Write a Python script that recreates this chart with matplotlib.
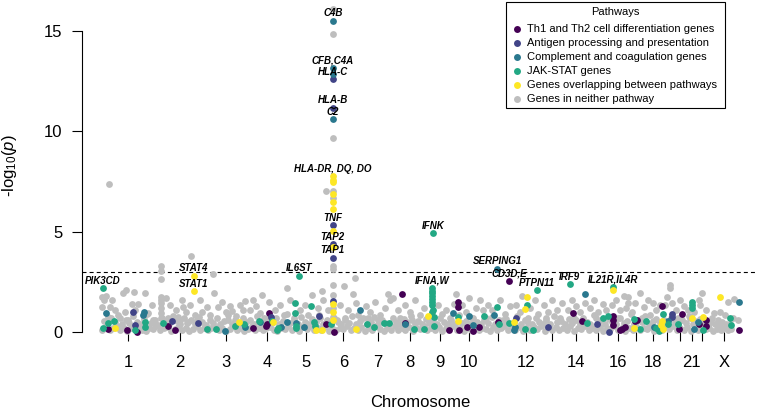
import matplotlib
matplotlib.use("Agg")
import matplotlib.pyplot as plt
from matplotlib.patches import Rectangle
import numpy as np

plt.rcParams['font.family'] = ['Liberation Sans', 'DejaVu Sans']
plt.rcParams['mathtext.fontset'] = 'custom'
plt.rcParams['mathtext.rm'] = 'Liberation Sans'
plt.rcParams['mathtext.it'] = 'Liberation Sans:italic'

# chromosomes and their lengths (Mb)
chromosomes = ['1', '2', '3', '4', '5', '6', '7', '8', '9', '10', '11', '12', '13', '14',
               '15', '16', '17', '18', '19', '20', '21', '22', 'X']
chrom_length_mb = [249, 243, 198, 191, 181, 171, 159, 146, 141, 136, 135, 134, 115, 107,
                   103, 90, 81, 78, 59, 63, 48, 51, 155]
shown_labels = ['1', '2', '3', '4', '5', '6', '7', '8', '9', '10', '12', '14', '16', '18', '21', 'X']

# (genome position in Mb, -log10 p)
gray_band_low = [(2,0.12),(18,0.25),(37,0.08),(52,0.2),(70,0.3),(88,0.1),(104,0.18),(121,0.05),(139,0.22),(156,0.15),(175,0.28),(190,0.1),(208,0.06),(226,0.2),(243,0.14),(259,0.3),(277,0.08),(294,0.18),(312,0.25),(330,0.05),(347,0.15),(363,0.27),(381,0.1),(398,0.2),(416,0.04),(433,0.16),(451,0.3),(468,0.12),(486,0.22),(503,0.08),(520,0.18),(538,0.26),(555,0.1),(573,0.2),(590,0.06),(608,0.15),(625,0.28),(642,0.12),(660,0.2),(677,0.05),(695,0.17),(712,0.3),(729,0.1),(747,0.22),(764,0.08),(782,0.18),(799,0.26),(817,0.12),(834,0.05),(851,0.2),(869,0.15),(886,0.28),(904,0.1),(921,0.18),(938,0.06),(956,0.24),(973,0.14),(991,0.3),(1008,0.08),(1025,0.2),(1043,0.12),(1060,0.26),(1078,0.05),(1095,0.18),(1112,0.1),(1130,0.22),(1147,0.15),(1165,0.3),(1182,0.08),(1199,0.2),(1217,0.12),(1234,0.25),(1252,0.05),(1269,0.18),(1286,0.1),(1304,0.28),(1321,0.15),(1339,0.06),(1356,0.22),(1373,0.12),(1391,0.3),(1408,0.08),(1426,0.18),(1443,0.1),(1460,0.25),(1478,0.05),(1495,0.2),(1513,0.14),(1530,0.28),(1547,0.08),(1565,0.18),(1582,0.1),(1600,0.24),(1617,0.06),(1634,0.2),(1652,0.14),(1669,0.3),(1687,0.1),(1704,0.18),(1721,0.05),(1739,0.22),(1756,0.12),(1774,0.28),(1791,0.08),(1808,0.2),(1826,0.15),(1843,0.05),(1861,0.25),(1878,0.1),(1895,0.18),(1913,0.3),(1930,0.08),(1948,0.2),(1965,0.12),(1982,0.26),(2000,0.05),(2017,0.18),(2035,0.1),(2052,0.24),(2069,0.14),(2087,0.3),(2104,0.06),(2122,0.2),(2139,0.12),(2156,0.26),(2174,0.08),(2191,0.18),(2209,0.1),(2226,0.28),(2243,0.05),(2261,0.2),(2278,0.15),(2296,0.3),(2313,0.08),(2330,0.18),(2348,0.1),(2365,0.24),(2383,0.06),(2400,0.2),(2417,0.14),(2435,0.28),(2452,0.1),(2470,0.18),(2487,0.05),(2504,0.22),(2522,0.12),(2539,0.3),(2557,0.08),(2574,0.2),(2591,0.15),(2609,0.26),(2626,0.05),(2644,0.18),(2661,0.1),(2678,0.24),(2696,0.14),(2713,0.3),(2731,0.08),(2748,0.2),(2765,0.12),(2783,0.26),(2800,0.05),(2818,0.18),(2835,0.1),(2852,0.24),(2870,0.14),(2887,0.2),(2905,0.06),(2922,0.16),(2940,0.1),(2957,0.22),(2975,0.08),(2992,0.14)]

gray_band_mid = [(10,0.55),(27,0.4),(45,0.7),(61,0.48),(79,0.85),(96,0.38),(113,0.62),(130,0.45),(148,0.78),(165,0.52),(183,0.4),(199,0.66),(217,0.9),(235,0.44),(252,0.58),(268,0.36),(286,0.72),(303,0.5),(321,0.42),(339,0.8),(356,0.55),(372,0.38),(390,0.68),(407,0.46),(425,0.6),(442,0.4),(460,0.75),(477,0.5),(495,0.36),(512,0.62),(529,0.45),(547,0.7),(564,0.4),(582,0.56),(599,0.85),(617,0.42),(634,0.6),(651,0.38),(669,0.72),(686,0.48),(704,0.58),(721,0.4),(738,0.8),(756,0.5),(773,0.38),(791,0.64),(808,0.45),(826,0.7),(843,0.4),(860,0.55),(878,0.9),(895,0.44),(913,0.62),(930,0.38),(947,0.74),(965,0.5),(982,0.42),(1000,0.66),(1017,0.48),(1034,0.85),(1052,0.4),(1069,0.58),(1087,0.36),(1104,0.7),(1121,0.5),(1139,0.42),(1156,0.62),(1174,0.45),(1191,0.8),(1208,0.38),(1226,0.56),(1243,0.68),(1261,0.42),(1278,0.5),(1295,0.75),(1313,0.4),(1330,0.6),(1348,0.46),(1365,0.38),(1382,0.7),(1400,0.52),(1417,0.42),(1435,0.64),(1452,0.48),(1469,0.8),(1487,0.4),(1504,0.56),(1522,0.38),(1539,0.66),(1556,0.45),(1574,0.58),(1591,0.4),(1609,0.72),(1626,0.5),(1643,0.42),(1661,0.62),(1678,0.38),(1696,0.85),(1713,0.46),(1730,0.56),(1748,0.4),(1765,0.68),(1783,0.5),(1800,0.38),(1817,0.6),(1835,0.44),(1852,0.75),(1870,0.4),(1887,0.58),(1904,0.48),(1922,0.66),(1939,0.38),(1957,0.52),(1974,0.8),(1991,0.42),(2009,0.6),(2026,0.45),(2044,0.38),(2061,0.7),(2078,0.5),(2096,0.42),(2113,0.62),(2131,0.4),(2148,0.78),(2165,0.48),(2183,0.56),(2200,0.38),(2218,0.66),(2235,0.45),(2252,0.6),(2270,0.4),(2287,0.72),(2305,0.5),(2322,0.42),(2339,0.85),(2357,0.46),(2374,0.58),(2392,0.38),(2409,0.64),(2426,0.5),(2444,0.4),(2461,0.7),(2479,0.45),(2496,0.56),(2513,0.9),(2531,0.42),(2548,0.6),(2566,0.48),(2583,0.78),(2600,0.4),(2618,0.55),(2635,0.66),(2653,0.44),(2670,0.6),(2687,0.38),(2705,0.72),(2722,0.5),(2740,0.42),(2757,0.62),(2774,0.46),(2792,0.8),(2809,0.4),(2827,0.56),(2844,0.66),(2861,0.45),(2879,0.38),(2896,0.52),(2914,0.42),(2931,0.36),(2949,0.48),(2966,0.4),(2984,0.38)]

gray_scatter = [
    (34,7.37),(1,1.74),(3,1.25),(10,1.59),(20,1.79),(39,1.25),(48,1.59),(63,1.1),(101,1.94),(115,2.09),(153,1.99),(205,1.94),(143,1.40),(172,1.40),(158,1.10),(110,1.0),(238,1.35),(219,0.95),(29,0.75),(86,0.7),(124,0.6),(243,0.6),
    (281,3.29),(281,3.04),(281,2.64),(280,1.74),(282,1.59),(281,1.44),(283,1.2),(280,0.95),(282,0.7),(424,3.79),(324,1.35),(352,1.1),(381,1.59),(400,1.0),(419,1.35),(443,0.85),(467,1.59),(315,0.7),(372,0.6),(410,0.5),(452,0.6),(476,1.0),(386,1.25),(362,0.75),(305,1.69),
    (528,2.89),(533,1.94),(552,1.25),(571,1.49),(590,1.0),(609,1.3),(619,1.05),(638,0.8),(657,1.35),(671,1.1),(680,1.54),(514,0.85),(600,0.6),(500,1.25),
    (761,1.84),(795,1.49),(704,1.1),(733,1.3),(752,0.95),(771,0.7),(823,1.1),(847,1.35),(866,0.85),(718,1.59),
    (880,2.19),(894,1.59),(942,1.1),(965,1.35),(980,0.85),(999,1.84),(1027,1.2),(1046,2.04),(1051,1.59),(1037,0.7),(913,0.7),
    (1098,16.09),(1098,14.85),(1098,9.67),(1065,7.03),(1098,7.03),(1098,6.68),(1098,3.29),(1098,3.14),(1098,2.34),(1098,1.84),(1098,1.2),(1098,0.75),(1151,2.29),(1204,2.69),(1194,1.89),(1208,1.44),(1132,1.35),(1170,1.1),(1156,0.7),(1218,0.85),(1075,1.1),(1118,0.6),
    (1256,1.3),(1275,1.0),(1298,1.49),(1322,0.85),(1346,1.2),(1360,1.89),(1369,1.59),(1384,1.69),(1313,0.6),(1265,0.7),
    (1407,1.1),(1441,1.35),(1464,1.0),(1488,1.59),(1512,0.85),(1531,1.2),(1417,0.7),(1474,0.6),
    (1616,0.9),(1597,1.35),(1635,1.1),(1654,0.7),(1559,0.6),(1673,1.4),
    (1683,1.89),(1745,1.69),(1711,1.35),(1778,1.2),(1797,1.59),(1730,1.0),(1759,0.7),(1811,1.1),
    (1835,1.35),(1854,1.1),(1892,1.59),(1916,0.9),(1939,1.3),(1825,0.7),(1906,0.6),
    (1996,1.79),(1968,1.35),(1987,1.0),(2034,1.2),(2058,1.59),(2072,0.9),(2025,0.7),
    (2101,1.35),(2120,1.0),(2139,1.59),(2162,1.1),(2186,1.44),(2110,0.7),(2177,0.7),
    (2215,1.1),(2234,1.59),(2253,1.3),(2272,1.0),(2296,1.44),(2243,0.7),
    (2319,1.2),(2338,1.59),(2357,1.0),(2381,1.4),(2395,1.1),(2348,0.7),
    (2424,1.35),(2443,1.59),(2462,1.1),(2481,1.79),(2491,1.2),(2453,0.7),
    (2500,1.74),(2502,1.44),(2533,1.44),(2557,1.94),(2576,1.25),(2519,1.0),(2567,0.7),
    (2595,1.59),(2619,1.44),(2633,1.1),(2652,1.35),(2605,0.85),
    (2686,1.74),(2700,2.34),(2701,2.19),(2676,1.35),(2709,1.44),
    (2728,1.1),(2747,1.59),(2766,1.3),(2738,0.7),
    (2785,1.1),(2814,1.0),(2795,0.7),
    (2852,1.94),(2842,1.35),(2871,1.1),(2838,1.59),
    (2909,0.95),(2975,1.49),(3004,1.64),(2899,0.7),(2937,1.0),(2961,0.85),(2999,0.7),(3023,0.6),(2928,0.6)]

th_genes = [(30,0.15),(120,0.1),(167,0.0),(315,0.3),(348,0.1),(718,0.2),(780,0.3),(795,0.95),(785,0.4),(1065,0.4),(1103,0.0),(1426,1.89),(1441,0.45),(1650,0.1),(1692,1.49),(1693,1.25),(1697,0.1),(1735,0.25),(1764,0.05),(1792,0.25),(1882,0.5),(1935,2.54),(2239,0.95),(2281,0.55),(2429,0.8),(2431,0.6),(2427,0.35),(2462,0.1),(2472,0.15),(2486,0.25),(2533,0.55),(2543,0.6),(2662,1.3),(2743,0.15),(2757,0.9),(2838,0.4),(2871,0.6),(2873,0.3),(3028,0.1)]

antigen_genes = [(148,1.0),(158,0.35),(334,0.55),(457,0.45),(804,0.75),(1032,0.8),(1098,12.6),(1098,11.16),(1098,5.33),(1098,4.38),(1098,3.69),(1098,1.54),(1968,0.7),(2120,0.25),(2353,0.4),(2410,0.0),(2709,0.9),(2711,0.75)]

complement_genes = [(1098,15.5),(1098,13.15),(1098,12.85),(1098,10.61),(20,0.95),(200,1.0),(196,0.85),(585,0.05),(680,0.25),(752,0.5),(851,0.25),(880,0.5),(923,0.45),(961,0.25),(1227,1.1),(1443,0.4),(1669,0.95),(1745,0.8),(1764,0.35),(1863,0.85),(1878,3.14),(1963,0.25),(1961,0.1),(2296,1.89),(2624,0.25),(2690,0.55),(2814,0.15),(2833,0.5),(3028,1.49)]

jakstat_genes = [(6,2.19),(6,0.2),(29,0.45),(58,0.55),(158,0.1),(205,0.5),(207,0.25),(291,0.45),(500,0.15),(543,0.15),(633,0.3),(676,0.4),(747,0.55),(809,0.55),(832,0.1),(839,0.2),(918,1.44),(916,0.95),(923,0.3),(925,0.2),(937,2.79),(994,1.3),(1008,0.5),(1013,0.3),(1089,0.4),(1260,0.4),(1293,0.25),(1341,0.45),(1365,0.45),(1483,0.15),(1531,0.15),(1569,2.19),(1569,2.04),(1569,1.94),(1569,1.79),(1569,1.64),(1569,1.49),(1569,1.35),(1573,1.1),(1569,1.0),(1578,0.75),(1578,0.3),(1573,4.93),(1692,0.75),(1816,0.8),(1878,1.25),(1887,0.4),(1935,0.45),(2011,0.15),(2020,1.35),(2049,0.1),(2068,2.09),(2224,2.39),(2305,0.45),(2381,0.7),(2405,0.8),(2429,2.24),(2528,0.65),(2557,0.15),(2586,0.55),(2633,0.2),(2648,0.05),(2667,0.9),(2690,0.4),(2738,0.4),(2804,1.49),(2804,1.35),(2804,1.2),(2857,0.1),(2985,0.7),(2989,0.35)]

overlap_genes = [(63,0.2),(438,2.79),(438,2.04),(652,0.5),(813,0.5),(1018,0.1),(1046,0.1),(1098,7.77),(1098,7.57),(1098,7.47),(1098,6.88),(1098,6.48),(1098,6.13),(1098,5.03),(1098,4.24),(1098,1.40),(1098,1.0),(1098,0.6),(1208,0.15),(1550,0.8),(1692,0.55),(1958,0.5),(2011,1.15),(2020,1.74),(2429,2.09),(2528,0.2),(2657,0.35),(2662,0.55),(2667,0.15),(2804,0.7),(2857,0.75),(2937,1.74)]

gene_labels = ['C4B', 'CFB,C4A', 'HLA-C', 'HLA-B', 'C2', 'HLA-DR, DQ, DO', 'TNF', 'TAP2', 'TAP1',
               'IL6ST', 'IFNK', 'IFNA,W', 'SERPING1', 'CD3D,E', 'PTPN11', 'IRF9', 'IL21R,IL4R',
               'PIK3CD', 'STAT4', 'STAT1']
label_pos_mb = [1098, 1098, 1098, 1098, 1098, 1098, 1098, 1098, 1098,
                937, 1573, 1569, 1878, 1935, 2068, 2224, 2429, 6, 438, 438]
label_logp = [15.5, 13.15, 12.6, 11.16, 10.61, 7.77, 5.33, 4.38, 3.69,
              2.79, 4.93, 2.19, 3.14, 2.54, 2.09, 2.39, 2.24, 2.19, 2.79, 2.04]

threshold = 3

pathway_names = ['Th1 and Th2 cell differentiation genes', 'Antigen processing and presentation',
                 'Complement and coagulation genes', 'JAK-STAT genes',
                 'Genes overlapping between pathways', 'Genes in neither pathway']
pathway_colors = ['#440154', '#414487', '#2A788E', '#22A884', '#FDE725', '#BEBEBE']

# chromosome centres for ticks
chrom_start = np.concatenate([[0], np.cumsum(chrom_length_mb)[:-1]])
chrom_mid = chrom_start + np.array(chrom_length_mb) / 2
tick_text = [c if c in shown_labels else '' for c in chromosomes]

W, H = 758, 409
fig = plt.figure(figsize=(W / 100, H / 100), dpi=100)
ax = fig.add_axes([82 / W, 77 / H, 676 / W, 332 / H])

gray_all = gray_band_low + gray_band_mid + gray_scatter
groups = [th_genes, antigen_genes, complement_genes, jakstat_genes, overlap_genes]

x, y = zip(*gray_all)
ax.scatter(x, y, s=24, color=pathway_colors[5], linewidths=0, clip_on=False, zorder=2)
for pts, col in zip(groups, pathway_colors[:5]):
    x, y = zip(*pts)
    ax.scatter(x, y, s=24, color=col, linewidths=0, clip_on=False, zorder=3)

ax.axhline(threshold, color='black', lw=0.8, linestyle=(0, (3.6, 2.8)), zorder=1)

for g, gx, gy in zip(gene_labels, label_pos_mb, label_logp):
    ax.annotate(g, (gx, gy), xytext=(0, 5.4), textcoords='offset points',
                ha='center', va='center', fontsize=7, fontweight='bold', fontstyle='italic',
                zorder=4)

ax.set_xlim(-94, 3118)
ax.set_ylim(0, 16.54)
for s in ['top', 'right', 'bottom']:
    ax.spines[s].set_visible(False)
ax.spines['left'].set_bounds(0, 15)
ax.spines['left'].set_linewidth(0.8)
ax.set_yticks([0, 5, 10, 15])
ax.set_xticks(chrom_mid)
ax.set_xticklabels(tick_text)
ax.tick_params(axis='x', length=6.5, width=0.8, pad=10, labelsize=12)
ax.tick_params(axis='y', length=7, width=0.8, pad=7, labelsize=12)

ax.set_xlabel('Chromosome', fontsize=12)
ax.xaxis.set_label_coords(0.5, -0.19)
ax.set_ylabel('-log$_{10}$($p$)', fontsize=12)
ax.yaxis.set_label_coords(-0.093, 0.5)

# legend box drawn in figure pixels
box_l, box_r, box_t, box_b = 506, 725, 2, 108
fig.patches.append(Rectangle((box_l / W, 1 - box_b / H), (box_r - box_l) / W, (box_b - box_t) / H,
                             transform=fig.transFigure, facecolor='white', edgecolor='black',
                             linewidth=0.8, zorder=5))
fig.text((box_l + box_r) / 2 / W, 1 - 12 / H, 'Pathways', ha='center', va='center',
         fontsize=8, zorder=6)
for i, (name, col) in enumerate(zip(pathway_names, pathway_colors)):
    ry = 1 - (29 + 14 * i) / H
    fig.text(527 / W, ry, name, ha='left', va='center', fontsize=8, zorder=6)
    fig.add_artist(plt.Line2D([517 / W], [ry], marker='o', markersize=5, markerfacecolor=col,
                              markeredgewidth=0, linestyle='', transform=fig.transFigure,
                              zorder=6))

fig.savefig('out.png', dpi=100)
